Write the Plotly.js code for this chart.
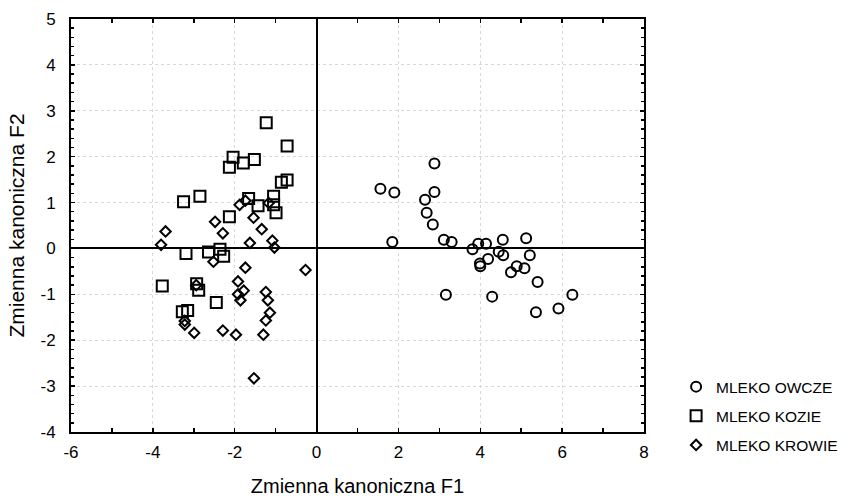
<!DOCTYPE html>
<html>
<head>
<meta charset="utf-8">
<script src="https://cdn.plot.ly/plotly-3.0.1.min.js"></script>
<style>html,body{margin:0;padding:0;background:#fff}#chart{width:855px;height:498px}</style>
</head>
<body>
<div id="chart"></div>
<script>
// MLEKO OWCZE (circles)
const owczeF1 = [2.88, 1.56, 1.90, 2.88, 2.65, 2.69, 2.84, 1.85, 3.11, 3.30, 3.81, 3.95, 4.14, 4.55, 4.45, 4.56, 5.12, 5.21, 4.19, 4.00, 3.99, 4.89, 5.08, 4.75, 5.40, 3.16, 4.29, 6.25, 5.91, 5.36];
const owczeF2 = [1.85, 1.30, 1.22, 1.23, 1.06, 0.78, 0.52, 0.14, 0.19, 0.14, -0.02, 0.10, 0.10, 0.19, -0.07, -0.15, 0.22, -0.15, -0.23, -0.39, -0.33, -0.39, -0.43, -0.52, -0.73, -1.01, -1.05, -1.01, -1.31, -1.39];
// MLEKO KOZIE (squares)
const kozieF1 = [-1.23, -0.72, -2.04, -1.79, -1.52, -2.13, -0.72, -0.86, -2.85, -3.25, -1.66, -1.43, -1.05, -1.05, -0.99, -2.13, -3.19, -2.64, -2.36, -2.27, -3.77, -2.93, -2.88, -2.45, -3.28, -3.15];
const kozieF2 = [2.74, 2.23, 1.99, 1.86, 1.94, 1.77, 1.49, 1.44, 1.14, 1.02, 1.09, 0.93, 1.14, 0.95, 0.78, 0.69, -0.11, -0.08, -0.02, -0.17, -0.82, -0.77, -0.91, -1.18, -1.38, -1.35];
// MLEKO KROWIE (diamonds)
const krowieF1 = [-3.69, -3.80, -2.48, -2.29, -1.88, -1.74, -1.54, -1.34, -1.63, -1.17, -1.08, -1.03, -2.52, -1.74, -0.27, -1.92, -1.78, -1.92, -1.86, -1.24, -1.19, -1.14, -1.24, -1.30, -1.97, -2.29, -2.99, -3.22, -3.22, -2.94, -1.53];
const krowieF2 = [0.37, 0.08, 0.58, 0.33, 0.95, 1.04, 0.67, 0.42, 0.12, 0.99, 0.17, 0.02, -0.29, -0.42, -0.47, -0.72, -0.92, -1.00, -1.13, -0.95, -1.13, -1.40, -1.57, -1.88, -1.88, -1.79, -1.84, -1.66, -1.58, -0.80, -2.83];

const seriesNames = ['MLEKO OWCZE', 'MLEKO KOZIE', 'MLEKO KROWIE'];
const xTitle = 'Zmienna kanoniczna F1';
const yTitle = 'Zmienna kanoniczna F2';
const xTickVals = [-6, -4, -2, 0, 2, 4, 6, 8];
const xTickText = ['-6', '-4', '-2', '0', '2', '4', '6', '8'];
const yTickVals = [-4, -3, -2, -1, 0, 1, 2, 3, 4, 5];
const yTickText = ['-4', '-3', '-2', '-1', '0', '1', '2', '3', '4', '5'];

const FONT = 'Liberation Sans, Arial, sans-serif';

const traces = [
  {x: owczeF1, y: owczeF2, name: seriesNames[0], legendgroup: 'a', type: 'scatter', mode: 'markers',
   marker: {symbol: 'circle-open', size: 10, color: '#000', line: {width: 2, color: '#000'}}},
  {x: kozieF1, y: kozieF2, name: seriesNames[1], legendgroup: 'b', type: 'scatter', mode: 'markers',
   marker: {symbol: 'square-open', size: 11, color: '#000', line: {width: 2, color: '#000'}}},
  {x: krowieF1, y: krowieF2, name: seriesNames[2], legendgroup: 'c', type: 'scatter', mode: 'markers',
   marker: {symbol: 'diamond-open', size: 8, color: '#000', line: {width: 2, color: '#000'}}}
];

const axisCommon = {
  showline: true, linecolor: '#000', linewidth: 2, mirror: 'allticks',
  ticks: 'inside', ticklen: 4, tickwidth: 1.5, tickcolor: '#000',
  showgrid: true, gridcolor: '#d8d8d8', griddash: 'dot', gridwidth: 1,
  zeroline: true, zerolinecolor: '#000', zerolinewidth: 2,
  tickmode: 'array',
  tickfont: {family: FONT, size: 17, color: '#000'}
};

const layout = {
  width: 855, height: 498,
  margin: {l: 71, r: 211, t: 19, b: 66},
  paper_bgcolor: '#fff', plot_bgcolor: '#fff',
  showlegend: true,
  xaxis: Object.assign({}, axisCommon, {
    range: [-6, 8], tickvals: xTickVals, ticktext: xTickText,
    minor: {dtick: 1, tick0: 0, ticks: 'inside', ticklen: 4, tickcolor: '#000', showgrid: false},
    ticklabelstandoff: 4,
    title: {text: xTitle, font: {family: FONT, size: 20, color: '#000'}, standoff: 18}
  }),
  yaxis: Object.assign({}, axisCommon, {
    range: [-4, 5], tickvals: yTickVals, ticktext: yTickText,
    minor: {dtick: 0.2, tick0: 0, ticks: 'inside', ticklen: 3, tickcolor: '#000', showgrid: false},
    ticklabelstandoff: 10,
    title: {text: yTitle, font: {family: FONT, size: 21, color: '#000'}, standoff: 10}
  }),
  legend: {
    x: 1.056, xanchor: 'left', y: 0.15, yanchor: 'top',
    font: {family: FONT, size: 15.5, color: '#000'},
    tracegroupgap: 6, traceorder: 'grouped',
    bgcolor: 'rgba(0,0,0,0)', borderwidth: 0
  }
};

Plotly.newPlot('chart', traces, layout, {displayModeBar: false, staticPlot: true});
</script>
</body>
</html>
